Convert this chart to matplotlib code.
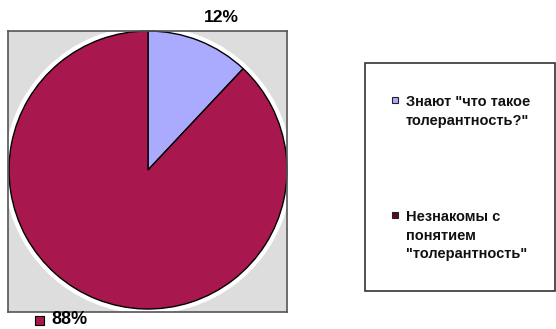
import matplotlib.pyplot as plt
from matplotlib.patches import Rectangle, Circle

labels = ['Знают "что такое\nтолерантность?"', 'Незнакомы с\nпонятием\n"толерантность"']
shares = [12, 88]
colors = ['#AAAAFF', '#A8184E']
key_colors = ['#AAAAFF', '#5A0A20']

plt.rcParams['font.family'] = ['Liberation Sans', 'DejaVu Sans']

W, H = 556, 329
fig = plt.figure(figsize=(W / 100, H / 100), dpi=100)


def fx(px):
    return px / W


def fy(py):
    return 1 - py / H


# plot area: gray box with the pie inside
left, top, right, bottom = 8, 31, 287, 312
ax = fig.add_axes([fx(left), fy(bottom), (right - left) / W, (bottom - top) / H])
ax.add_patch(Circle((0, 0), 1.03, color='white', zorder=0.5))
ax.pie(shares, colors=colors, startangle=90, counterclock=False,
       wedgeprops=dict(edgecolor='black', linewidth=1))
r = 139
cx, cy = 148, 170
ax.set_xlim(-(cx - left) / r, (right - cx) / r)
ax.set_ylim(-(bottom - cy) / r, (cy - top) / r)
ax.set_aspect('auto')
ax.set_frame_on(True)
ax.set_facecolor('#DDDDDD')
for s in ax.spines.values():
    s.set_color('#555555')
    s.set_linewidth(1.2)

# value labels
fig.text(fx(221), fy(18), f'{shares[0]}%', fontsize=12.5, fontweight='bold',
         ha='center', va='center')
fig.add_artist(Rectangle((fx(35), fy(325)), 9 / W, 9 / H, transform=fig.transFigure,
                         facecolor=colors[1], edgecolor='black', linewidth=0.8))
fig.text(fx(51), fy(320), f'{shares[1]}%', fontsize=13, fontweight='bold',
         ha='left', va='center')

# legend box
fig.add_artist(Rectangle((fx(365), fy(291)), 190 / W, 228 / H, transform=fig.transFigure,
                         facecolor='white', edgecolor='#333333', linewidth=1.2))
key_y = [100, 215]
for lab, kc, y in zip(labels, key_colors, key_y):
    fig.add_artist(Rectangle((fx(392), fy(y + 3)), 6 / W, 6 / H, transform=fig.transFigure,
                             facecolor=kc, edgecolor='#222222', linewidth=0.8))
    lines = lab.split('\n')
    for i, line in enumerate(lines):
        fig.text(fx(406), fy(y + 2 + i * 18.5), line, fontsize=10.5, fontweight='bold',
                 ha='left', va='center', color='#111111')

fig.savefig('out.png', dpi=100)
